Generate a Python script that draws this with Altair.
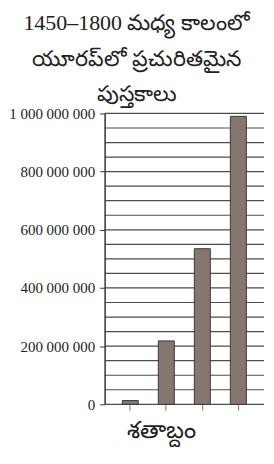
import altair as alt
import pandas as pd

centuries = ["1450–1500", "1500–1600", "1600–1700", "1700–1800"]
books = [13000000, 218000000, 535000000, 990000000]
grid_values = list(range(0, 1000000001, 50000000))
label_values = list(range(0, 1000000001, 200000000))

title_lines = ["1450–1800 మధ్య కాలంలో", "యూరప్‌లో ప్రచురితమైన", "పుస్తకాలు"]
x_title = "శతాబ్దం"

df = pd.DataFrame({"century": centuries, "books": books})
grid_df = pd.DataFrame({"g": grid_values})

label_expr = "replace(replace(replace(format(datum.value, ','), ',', ' '), ',', ' '), ',', ' ')"

y_scale = alt.Scale(domain=[0, 1000000000], nice=False)

grid = alt.Chart(grid_df).mark_rule(color="#4d4d4d", strokeWidth=1.2).encode(
    y=alt.Y("g:Q", scale=y_scale,
            axis=alt.Axis(values=label_values, labelExpr=label_expr,
                          grid=False, domain=True, domainColor="#333333", domainWidth=1.5,
                          tickSize=5, tickColor="#333333",
                          labelFont="Liberation Serif", labelFontSize=15,
                          labelColor="#222222", labelPadding=5,
                          title=None)),
    x=alt.value(0), x2=alt.value(160)
)

bars = alt.Chart(df).mark_bar(
    color="#857670", stroke="#3a3a3a", strokeWidth=1
).encode(
    x=alt.X("century:N", sort=centuries,
            scale=alt.Scale(paddingInner=0.556, paddingOuter=0.49),
            axis=alt.Axis(labels=False, ticks=True, tickSize=6, tickColor="#777777",
                          domain=False, grid=False, title=x_title,
                          titleFont="Liberation Serif", titleFontSize=24,
                          titleFontWeight="normal", titleColor="#222222",
                          titlePadding=8, titleX=57)),
    y=alt.Y("books:Q", scale=y_scale)
)

chart = alt.layer(grid, bars).properties(
    width=160, height=292,
    title=alt.TitleParams(title_lines, font="Liberation Serif", fontSize=22,
                          fontWeight="normal", color="#222222", lineHeight=36,
                          anchor="middle", frame="bounds", offset=0),
    padding={"left": 0, "top": 3, "right": 1, "bottom": 3}
).configure_view(stroke=None)

chart.save("out.html", embed_options={"renderer": "svg", "actions": False})
